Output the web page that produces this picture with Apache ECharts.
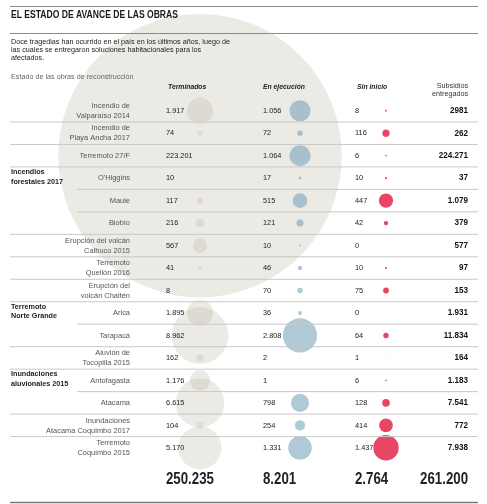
<!DOCTYPE html>
<html><head><meta charset="utf-8">
<script src="https://cdn.jsdelivr.net/npm/echarts@6/dist/echarts.min.js"></script>
<style>html,body{margin:0;padding:0;background:#fff}#c{width:487px;height:504px}</style>
</head><body><div id="c"></div>
<script>
// ---------- data ----------
const rows = [
  'Incendio de\nValparaíso 2014',
  'Incendio de\nPlaya Ancha 2017',
  'Terremoto 27/F',
  "O'Higgins",
  'Maule',
  'Biobío',
  'Erupción del volcán\nCalbuco 2015',
  'Terremoto\nQuellón 2016',
  'Erupción del\nvolcán Chaitén',
  'Arica',
  'Tarapacá',
  'Aluvión de\nTocopilla 2015',
  'Antofagasta',
  'Atacama',
  'Inundaciones\nAtacama Coquimbo 2017',
  'Terremoto\nCoquimbo 2015'
];
const groupLabels = ['Incendios\nforestales 2017', 'Terremoto\nNorte Grande', 'Inundaciones\naluvionales 2015'];
const groupRows = [3, 9, 12];
const headers = ['Terminados', 'En ejecución', 'Sin inicio', 'Subsidios\nentregados'];
const terminados = [1917, 74, 223201, 10, 117, 216, 567, 41, 8, 1895, 8962, 162, 1176, 6615, 104, 5170];
const enEjecucion = [1056, 72, 1064, 17, 515, 121, 10, 46, 70, 36, 2808, 2, 1, 798, 254, 1331];
const sinInicio = [8, 116, 6, 10, 447, 42, 0, 10, 75, 0, 64, 1, 6, 128, 414, 1437];
const subsidios = [2981, 262, 224271, 37, 1079, 379, 577, 97, 153, 1931, 11834, 164, 1183, 7541, 772, 7938];
const totals = [250235, 8201, 2764, 261200];
// row boundaries (after row k) where the rule starts indented (inside a group)
const indentedRules = [4, 5, 10, 13];

// ---------- helpers ----------
function fmt(v) { return String(v).replace(/\B(?=(\d{3})+(?!\d))/g, '.'); }
const subsidiosLabels = subsidios.map(fmt);
subsidiosLabels[0] = '2981'; // printed this way in the source

const F = '"Liberation Sans", Arial, sans-serif';
const X = { label: 130, group: 11, term: 166, termB: 200, ejec: 263, ejecB: 300, sin: 355, sinB: 386, sub: 468, ruleL: 10, ruleI: 77, ruleR: 478 };
const K = { term: 0.6, ejec: 0.645, sin: 0.67 };

// condensed text element (scaled horizontally around its anchor)
function txt(text, x, y, opts) {
  return {
    type: 'text', x: x, y: y, scaleX: opts.sx || 1, z: opts.z || 5,
    style: {
      text: text, x: 0, y: 0, font: opts.font, fill: opts.fill || '#222',
      align: opts.align || 'left', verticalAlign: opts.va || 'middle',
      lineHeight: opts.lh || 10
    }
  };
}

const chart = echarts.init(document.getElementById('c'), null, { renderer: 'canvas' });

function bubble(values, xPos, k, color) {
  return {
    type: 'scatter', silent: true, clip: false, z: 1,
    data: values.map((v, i) => [xPos, i + 0.5, v]),
    symbolSize: d => k * Math.sqrt(d[2]),
    itemStyle: { color: color, borderWidth: 0 },
    emphasis: { disabled: true }
  };
}

const option = {
  animation: false,
  grid: { left: 0, top: 99.5, width: 487, height: 18 * 23 },
  xAxis: { type: 'value', min: 0, max: 487, show: false },
  yAxis: { type: 'value', min: 0, max: 18, inverse: true, show: false },
  graphic: [
    { type: 'line', z: 5, shape: { x1: X.ruleL, y1: 6.5, x2: X.ruleR, y2: 6.5 }, style: { stroke: '#8a8a8a', lineWidth: 1 } },
    txt('EL ESTADO DE AVANCE DE LAS OBRAS', 11, 15, { font: 'bold 10.5px ' + F, fill: '#1a1a1a', sx: 0.815 }),
    { type: 'line', z: 5, shape: { x1: X.ruleL, y1: 33.5, x2: X.ruleR, y2: 33.5 }, style: { stroke: '#8a8a8a', lineWidth: 1 } },
    txt('Doce tragedias han ocurrido en el país en los últimos años, luego de\nlas cuales se entregaron soluciones habitacionales para los\nafectados.', 11, 37.7, { font: '8px ' + F, fill: '#222', va: 'top', lh: 8, sx: 0.9 }),
    txt('Estado de las obras de reconstrucción', 11, 77, { font: '8px ' + F, fill: '#666', sx: 0.9 }),
    txt(headers[0], 168, 86.5, { font: 'italic bold 8px ' + F, fill: '#222', sx: 0.85 }),
    txt(headers[1], 263, 86.5, { font: 'italic bold 8px ' + F, fill: '#222', sx: 0.85 }),
    txt(headers[2], 357, 86.5, { font: 'italic bold 8px ' + F, fill: '#222', sx: 0.85 }),
    txt(headers[3], 468, 82, { font: '8px ' + F, fill: '#333', align: 'right', va: 'top', lh: 8, sx: 0.9 }),
    { type: 'line', z: 5, shape: { x1: X.ruleL, y1: 502.5, x2: X.ruleR, y2: 502.5 }, style: { stroke: '#777', lineWidth: 1.3 } }
  ],
  series: [
    bubble(terminados, X.termB, K.term, 'rgba(186,184,162,0.36)'),
    bubble(enEjecucion, X.ejecB, K.ejec, 'rgba(118,162,186,0.72)'),
    bubble(sinInicio, X.sinB, K.sin, '#e3173e'),
    {
      type: 'custom', silent: true, z: 2,
      data: Array.from({ length: rows.length - 1 }, (_, j) => [indentedRules.indexOf(j + 1) >= 0 ? 1 : 0, j + 1]),
      renderItem: (params, api) => {
        const y = api.coord([0, api.value(1)])[1];
        const x1 = api.coord([api.value(0) ? X.ruleI : X.ruleL, 0])[0];
        const x2 = api.coord([X.ruleR, 0])[0];
        return { type: 'line', shape: { x1: x1, y1: y, x2: x2, y2: y }, style: { stroke: '#c8c8c8', lineWidth: 1 } };
      }
    },
    {
      type: 'custom', silent: true, z: 3,
      data: rows.map((_, i) => [0, i]),
      renderItem: (params, api) => {
        const i = api.value(1);
        const y = api.coord([0, i + 0.5])[1];
        const px = v => api.coord([v, 0])[0];
        const kids = [
          txt(rows[i], px(X.label), y, { font: '8px ' + F, fill: '#555', align: 'right', sx: 0.93 }),
          txt(fmt(terminados[i]), px(X.term), y, { font: '8px ' + F, fill: '#222', sx: 0.92 }),
          txt(fmt(enEjecucion[i]), px(X.ejec), y, { font: '8px ' + F, fill: '#222', sx: 0.92 }),
          txt(fmt(sinInicio[i]), px(X.sin), y, { font: '8px ' + F, fill: '#222', sx: 0.92 }),
          txt(subsidiosLabels[i], px(X.sub), y, { font: 'bold 8.5px ' + F, fill: '#111', align: 'right', sx: 0.95 })
        ];
        const g = groupRows.indexOf(i);
        if (g >= 0) {
          kids.push(txt(groupLabels[g], px(X.group), y - 1.5, { font: 'bold 8px ' + F, fill: '#222', lh: 9.5, sx: 0.9 }));
        }
        return { type: 'group', children: kids };
      }
    },
    {
      type: 'custom', silent: true, z: 3,
      data: totals.map((v, j) => [j, rows.length + 0.9]),
      renderItem: (params, api) => {
        const j = api.value(0);
        const y = api.coord([0, api.value(1)])[1];
        const xs = [X.term, X.ejec, X.sin, X.sub];
        return txt(fmt(totals[j]), api.coord([xs[j], 0])[0], y, { font: 'bold 17px ' + F, fill: '#222', align: j === 3 ? 'right' : 'left', sx: 0.78 });
      }
    }
  ]
};
chart.setOption(option);
</script>
</body></html>
